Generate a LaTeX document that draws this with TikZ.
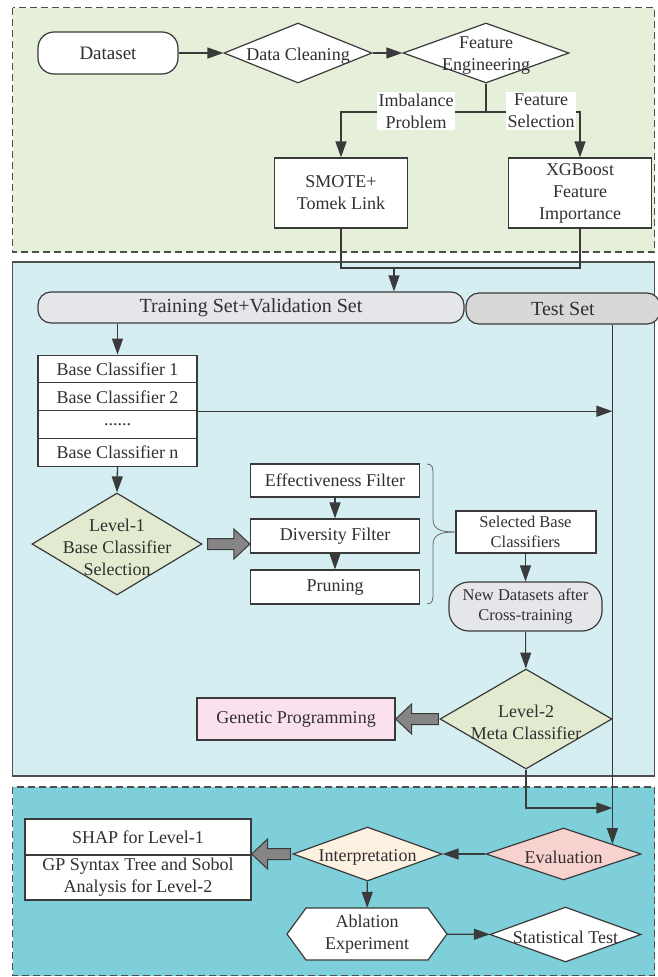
\documentclass[tikz,border=0pt]{standalone}
\usepackage{fontspec}
\setmainfont{Liberation Serif}
\usetikzlibrary{arrows.meta,shapes.geometric,calc}

\definecolor{linec}{HTML}{3A3A3A}
\definecolor{txt}{HTML}{303030}
\definecolor{topbg}{HTML}{E5EFD9}
\definecolor{midbg}{HTML}{D5EEF1}
\definecolor{botbg}{HTML}{7ECFD9}
\definecolor{lvlfill}{HTML}{E2EBCF}
\definecolor{setfill}{HTML}{E4E6EA}
\definecolor{testfill}{HTML}{D8D8D8}
\definecolor{gpfill}{HTML}{FBE0EE}
\definecolor{evalfill}{HTML}{F8D2CE}
\definecolor{interpfill}{HTML}{FDF1E1}
\definecolor{fatgray}{HTML}{858585}

% broad block arrow: #1 tail, #2 tip (tail's height is used), #3 '-' points right, '+' points left
\newcommand\fatarrowto[3]{%
  \draw[fatar] let \p1=(#1), \p2=(#2) in
    (\x1,\y1+5.5pt) -- (\x2#316pt,\y1+5.5pt) -- (\x2#316pt,\y1+15pt) -- (\x2,\y1)
    -- (\x2#316pt,\y1-15pt) -- (\x2#316pt,\y1-5.5pt) -- (\x1,\y1-5.5pt) -- cycle;}

\begin{document}
\begin{tikzpicture}[x=1pt,y=-1pt,
  font=\fontsize{18}{22}\selectfont,
  every node/.style={inner sep=0pt, align=center, text=txt},
  every label/.style={align=center, inner sep=0pt, text=txt, yshift=-3pt},
  rect/.style={draw=linec, line width=1.2pt, fill=white},
  term/.style={draw=linec, line width=1.2pt, fill=white, rounded corners=#1},
  dia/.style={diamond, draw=linec, line width=1.2pt, fill=white},
  line/.style={draw=linec, line width=1.3pt},
  arr/.style={draw=linec, line width=1.3pt, -{Triangle[length=16pt,width=11pt]}},
  fatar/.style={draw=linec, line width=1pt, fill=fatgray, line join=miter},
  region/.style={draw=linec!90, line width=1.1pt},
  dashedregion/.style={region, dash pattern=on 7pt off 4pt},
]
\path[use as bounding box, fill=white] (0,0) rectangle (657,977);

% the three stages
\draw[dashedregion, fill=topbg] (12.5,7.5) rectangle (654.5,252);
\draw[region, fill=midbg] (12.5,262) rectangle (654.5,776);
\draw[dashedregion, fill=botbg] (12.5,787) rectangle (654.5,975.5);

% ---------- data preparation ----------
\node[term=16pt, minimum width=140pt, minimum height=42pt,
      font=\fontsize{19}{23}\selectfont] (ds) at (108,53) {Dataset};
\node[dia, minimum width=148pt, minimum height=60pt,
      label=center:{Data Cleaning}] (dc) at (298,53) {};
\node[dia, minimum width=166pt, minimum height=60pt,
      label=center:{Feature\\Engineering}] (fe) at (486,53) {};
\node[rect, minimum width=133pt, minimum height=70pt] (sm) at (341,193) {SMOTE+\\Tomek Link};
\node[rect, minimum width=143pt, minimum height=70pt] (xg) at (580,193) {XGBoost\\Feature\\Importance};

\draw[arr] (ds) -- (dc);
\draw[arr] (dc) -- (fe);
\coordinate (sp) at (fe.south |- 0,112);
\draw[line] (fe.south) -- (sp);
\draw[arr] (sp) -| (sm.north);
\draw[arr] (sp) -| (xg.north);
\node[fill=white, inner sep=2pt] (lbim) at (416,111) {Imbalance\\Problem};
\node[fill=white, inner sep=2pt] (lbfs) at (541,111) {Feature\\Selection};

% ---------- two-level ensemble ----------
\node[term=13pt, fill=setfill, minimum width=426pt, minimum height=31pt,
      font=\fontsize{20}{24}\selectfont] (tr) at (251,307.5) {Training Set+Validation Set};
\node[term=13pt, fill=testfill, minimum width=194pt, minimum height=31pt,
      font=\fontsize{20}{24}\selectfont] (ts) at (563,308.5) {Test Set};

\coordinate (mg) at (394,268);
\draw[line] (sm.south) |- (mg) -| (xg.south);
\draw[arr] (mg) -- (mg |- tr.north);

\node[rect, minimum width=159pt, minimum height=27.75pt] (bc1) at (117.5,369) {Base Classifier 1};
\node[rect, minimum width=159pt, minimum height=27.75pt] (bc2) at (117.5,396.75) {Base Classifier 2};
\node[rect, minimum width=159pt, minimum height=27.75pt] (bc3) at (117.5,424.5) {......};
\node[rect, minimum width=159pt, minimum height=27.75pt] (bc4) at (117.5,452.25) {Base Classifier n};

\node[dia, fill=lvlfill, minimum width=170pt, minimum height=102pt,
      label=center:{Level-1\\Base Classifier\\Selection}] (l1) at (117,544) {};

\node[rect, minimum width=169pt, minimum height=33pt] (ef) at (335,480.5) {Effectiveness Filter};
\node[rect, minimum width=169pt, minimum height=34pt] (dv) at (335,536) {Diversity Filter};
\node[rect, minimum width=169pt, minimum height=34pt] (pr) at (335,587) {Pruning};

\node[rect, line width=2pt, minimum width=140pt, minimum height=42pt,
      font=\fontsize{16.5}{20.5}\selectfont] (sel) at (525.5,532) {Selected Base\\Classifiers};
\node[term=20pt, fill=setfill, minimum width=153pt, minimum height=49pt,
      font=\fontsize{16.5}{20.5}\selectfont] (nd) at (525.5,606.5) {New Datasets after\\Cross-training};

\node[dia, fill=lvlfill, minimum width=172pt, minimum height=100pt,
      label=center:{Level-2\\Meta Classifier}] (l2) at (526,719) {};
\node[rect, fill=gpfill, minimum width=198pt, minimum height=42pt] (gp) at (296,719) {Genetic Programming};

\draw[arr] (bc1.north |- tr.south) -- (bc1.north);
\draw[arr] (bc4.south) -- (l1.north);
\fatarrowto{$(l1.east)+(5,0)$}{l1.east -| dv.west}{-}
\draw[arr] (ef) -- (dv);
\draw[arr] (dv) -- (pr);

% brace gathering the three filters
\draw[linec!75, line width=0.8pt]
  (427,464) .. controls (433,464) and (433,468) .. (433,477) -- (433,519)
  .. controls (433,529) and (440,532) .. (sel.west);
\draw[linec!75, line width=0.8pt]
  (427,604) .. controls (433,604) and (433,600) .. (433,591) -- (433,545)
  .. controls (433,535) and (440,532) .. (sel.west);

\draw[arr] (sel) -- (nd);
\draw[arr, line width=1pt] (nd) -- (l2);
\fatarrowto{$(l2.west)+(-1,0)$}{gp.east |- l2.west}{+}

% ---------- evaluation and interpretation ----------
\node[dia, fill=evalfill, minimum width=155pt, minimum height=52pt,
      label=center:{Evaluation}] (ev) at (563.5,854) {};
\node[dia, fill=interpfill, minimum width=149pt, minimum height=54pt,
      label=center:{Interpretation}] (ip) at (367.5,854) {};
\node[rect, minimum width=226pt, minimum height=36pt] (sh1) at (138,837) {SHAP for Level-1};
\node[rect, minimum width=226pt, minimum height=45pt] (sh2) at (138,877.5) {GP Syntax Tree and Sobol\\Analysis for Level-2};

\coordinate (ac) at (367,934);
\draw[line, line width=1.2pt, fill=white]
  ($(ac)+(-80,0)$) -- ($(ac)+(-61,-26)$) -- ($(ac)+(61,-26)$) -- ($(ac)+(80,0)$)
  -- ($(ac)+(61,26)$) -- ($(ac)+(-61,26)$) -- cycle;
\node[minimum width=160pt, minimum height=52pt] (ab) at (ac) {Ablation\\Experiment};
\node[dia, minimum width=151pt, minimum height=55pt,
      label=center:{Statistical Test}] (st) at (565.5,934.5) {};

\coordinate (evhit) at ($(ev.north)!0.626!(ev.east)$);
\draw[arr] (ts.south -| evhit) -- (evhit);
\draw[arr] (bc2.south east) -- (bc2.south east -| evhit);
\draw[arr] (l2.south) |- (evhit |- 0,808);
\draw[arr] (ev) -- (ip);
\fatarrowto{$(ip.west)+(-2,0)$}{sh1.south east |- ip.west}{+}
\draw[arr] (ip) -- (ab);
\draw[arr] (ab) -- (st);
\end{tikzpicture}
\end{document}
